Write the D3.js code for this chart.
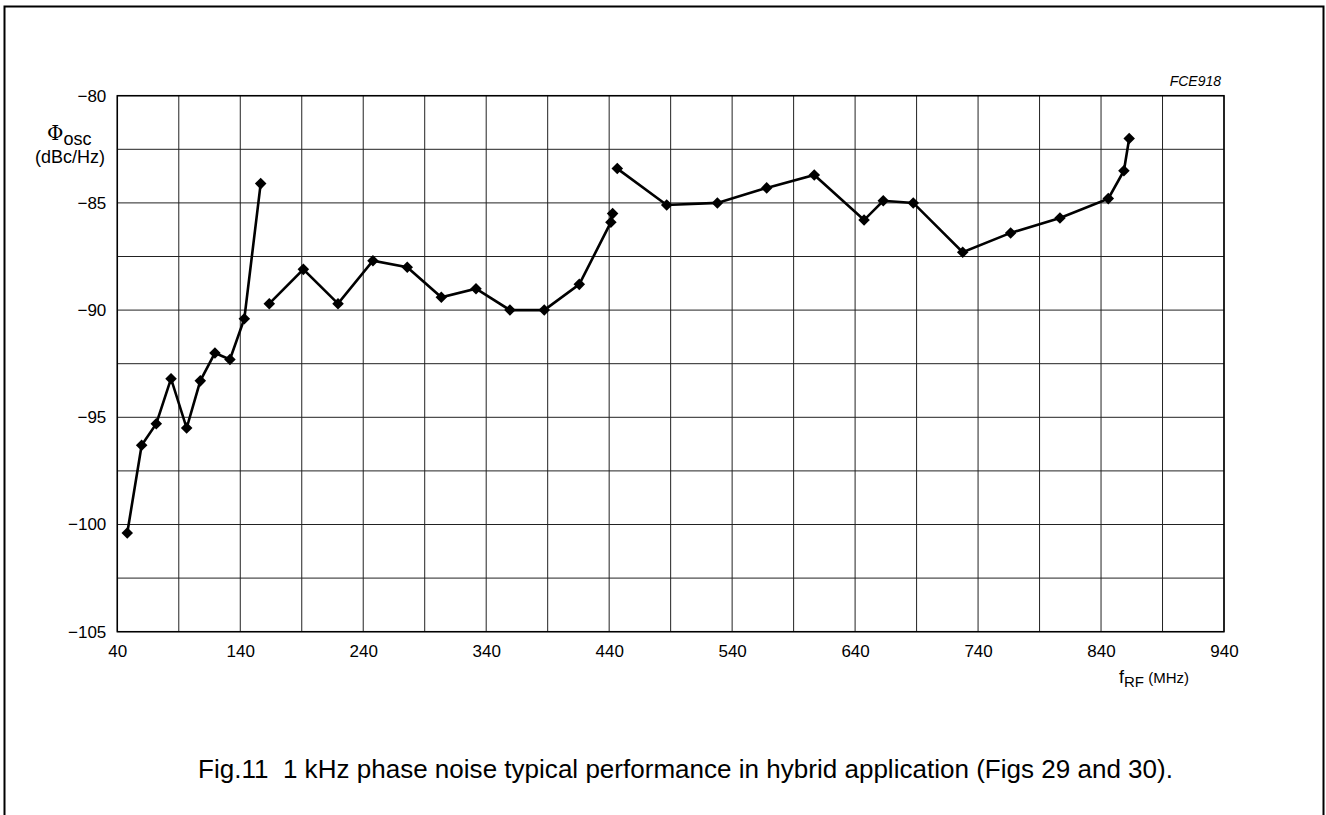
<!DOCTYPE html>
<html><head><meta charset="utf-8">
<script src="https://cdn.jsdelivr.net/npm/d3@7"></script>
<style>body{margin:0;background:#fff}svg{display:block;font-family:"Liberation Sans",Arial,sans-serif}</style>
</head><body>
<svg id="c" width="1326" height="815"></svg>
<script>
// Data: three separate measured segments (frequency MHz, phase noise dBc/Hz)
const seg1F = [48.1, 59.8, 71.7, 83.7, 96.4, 107.5, 119.4, 131.6, 143.3, 156.6];
const seg1V = [-100.4, -96.3, -95.3, -93.2, -95.5, -93.3, -92.0, -92.3, -90.4, -84.1];
const seg2F = [163.6, 191.3, 219.5, 247.9, 275.8, 303.5, 331.7, 359.3, 387.2, 415.7, 441.4, 442.8];
const seg2V = [-89.7, -88.1, -89.7, -87.7, -88.0, -89.4, -89.0, -90.0, -90.0, -88.8, -85.9, -85.5];
const seg3F = [446.6, 486.8, 528.0, 568.1, 606.8, 647.3, 662.9, 687.3, 727.5, 766.5, 806.6, 845.9, 858.6, 862.9];
const seg3V = [-83.4, -85.1, -85.0, -84.3, -83.7, -85.8, -84.9, -85.0, -87.3, -86.4, -85.7, -84.8, -83.5, -82.0];
const xTicks = [40, 140, 240, 340, 440, 540, 640, 740, 840, 940];
const yTicks = [-80, -85, -90, -95, -100, -105];

const svg = d3.select("#c");
const L = 117.3, R = 1224, T = 95.7, B = 631.7;
const x = d3.scaleLinear().domain([40, 940]).range([L, R]);
const y = d3.scaleLinear().domain([-105, -80]).range([B, T]);

svg.append("path").attr("d", "M4.5,830 V6.5 H1323.5 V830").attr("fill", "none").attr("stroke", "#000").attr("stroke-width", 2);

const g = svg.append("g");
g.selectAll(".vx").data(d3.range(40, 941, 50)).join("line")
  .attr("x1", d => x(d)).attr("x2", d => x(d)).attr("y1", T).attr("y2", B)
  .attr("stroke", "#222").attr("stroke-width", 1);
g.selectAll(".hy").data(d3.range(-105, -79.9, 2.5)).join("line")
  .attr("y1", d => y(d)).attr("y2", d => y(d)).attr("x1", L).attr("x2", R)
  .attr("stroke", "#222").attr("stroke-width", 1);
g.append("rect").attr("x", L).attr("y", T).attr("width", R - L).attr("height", B - T)
  .attr("fill", "none").attr("stroke", "#000").attr("stroke-width", 1.5);

const fmt = d => (d < 0 ? "\u2212" + Math.abs(d) : String(d));
const ax = svg.append("g").attr("transform", `translate(0,${B})`)
  .call(d3.axisBottom(x).tickValues(xTicks).tickSize(0).tickPadding(13).tickFormat(fmt));
ax.select(".domain").remove();
ax.selectAll("text").attr("font-size", 17).attr("fill", "#000").attr("font-family", "Liberation Sans, Arial, sans-serif");
const ay = svg.append("g").attr("transform", `translate(${L},0)`)
  .call(d3.axisLeft(y).tickValues(yTicks).tickSize(0).tickPadding(11).tickFormat(fmt));
ay.select(".domain").remove();
ay.selectAll("text").attr("font-size", 17).attr("fill", "#000").attr("font-family", "Liberation Sans, Arial, sans-serif");

const line = d3.line().x(d => x(d[0])).y(d => y(d[1]));
const segs = [[seg1F, seg1V], [seg2F, seg2V], [seg3F, seg3V]].map(([f, v]) => f.map((d, i) => [d, v[i]]));
const sym = d3.symbol().type(d3.symbolDiamond2).size(85);
segs.forEach(s => {
  svg.append("path").datum(s).attr("d", line).attr("fill", "none").attr("stroke", "#000").attr("stroke-width", 2.6);
  svg.selectAll(null).data(s).join("path")
    .attr("transform", d => `translate(${x(d[0])},${y(d[1])})`).attr("d", sym).attr("fill", "#000");
});

const t1 = svg.append("text").attr("x", 47).attr("y", 140).attr("font-size", 20);
t1.append("tspan").attr("font-family", "DejaVu Serif, serif").text("\u03A6");
t1.append("tspan").attr("font-size", 18).attr("dy", 5).text("osc");
svg.append("text").attr("x", 70).attr("y", 163).attr("text-anchor", "middle").attr("font-size", 18).text("(dBc/Hz)");
svg.append("text").attr("x", 1221).attr("y", 86).attr("text-anchor", "end").attr("font-size", 14).attr("font-style", "italic").text("FCE918");
const t2 = svg.append("text").attr("x", 1119).attr("y", 683).attr("font-size", 18);
t2.append("tspan").text("f");
t2.append("tspan").attr("font-size", 15).attr("dy", 4).text("RF");
t2.append("tspan").attr("font-size", 15).attr("dy", -4).text(" (MHz)");
svg.append("text").attr("x", 198).attr("y", 778).attr("font-size", 25)
  .attr("textLength", 975).attr("lengthAdjust", "spacingAndGlyphs")
  .style("white-space", "pre")
  .text("Fig.11  1 kHz phase noise typical performance in hybrid application (Figs 29 and 30).");
</script>
</body></html>
